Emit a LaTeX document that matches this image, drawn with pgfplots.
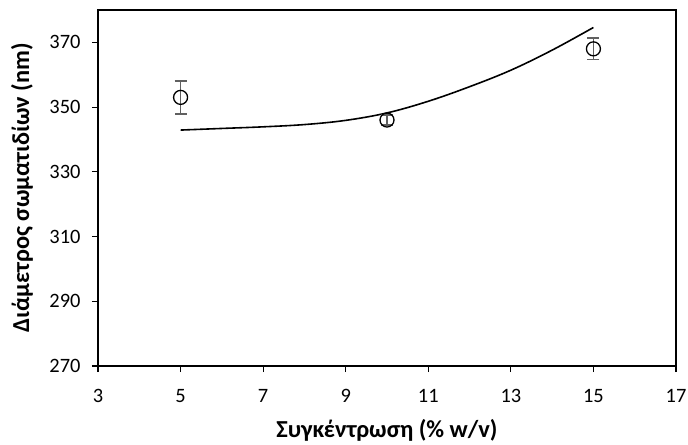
\documentclass[border=0pt]{standalone}
\usepackage{pgfplots}
\pgfplotsset{compat=1.18}
\usepackage{fontspec}
\setmainfont{Carlito}
\definecolor{errgray}{HTML}{606060}
\begin{document}
\begin{tikzpicture}
\begin{axis}[
  name=ax,
  scale only axis,
  width=578bp, height=356bp,
  xmin=3, xmax=17, ymin=270, ymax=380,
  xtick={3,5,...,17}, ytick={270,290,...,370},
  tick align=outside, tick pos=left,
  major tick length=6bp,
  tick style={black, line width=1.1pt},
  axis line style={line width=1.6pt},
  /pgf/number format/assume math mode=true,
  ticklabel style={font=\fontsize{20.5}{24}\selectfont},
  xticklabel style={anchor=base, yshift=-30bp},
  yticklabel style={anchor=east, xshift=-8bp},
  xlabel={\textbf{Συγκέντρωση (\% w/v)}},
  ylabel={\textbf{Διάμετρος σωματιδίων (nm)}},
  label style={font=\fontsize{24.5}{28}\selectfont},
  xlabel style={at={(axis description cs:0.5,-0.1798)}, anchor=center},
  ylabel style={at={(axis description cs:-0.1315,0.5)}, anchor=center},
]
\addplot[black, line width=1.6pt, smooth, tension=0.6] coordinates {
  (5,342.9) (6,343.4) (7,343.9) (8,344.6) (9,345.9) (10,348.2)
  (11,351.8) (12,356.3) (13,361.4) (14,367.6) (15,374.6)
};
\addplot[only marks, mark=o, mark size=7bp, mark options={black, line width=1.3pt},
  error bars/.cd, y dir=both, y explicit,
  error bar style={errgray, line width=1.5pt},
  error mark options={rotate=90, mark size=6bp, errgray, line width=1.5pt}]
  coordinates {
  (5,353) +- (0,5.1)
  (10,346) +- (0,1.5)
  (15,368) +- (0,3.3)
};
\end{axis}
\pgfresetboundingbox
\path ([shift={(-98bp,-79bp)}]ax.south west) rectangle ([shift={(12bp,10bp)}]ax.north east);
\end{tikzpicture}
\end{document}
